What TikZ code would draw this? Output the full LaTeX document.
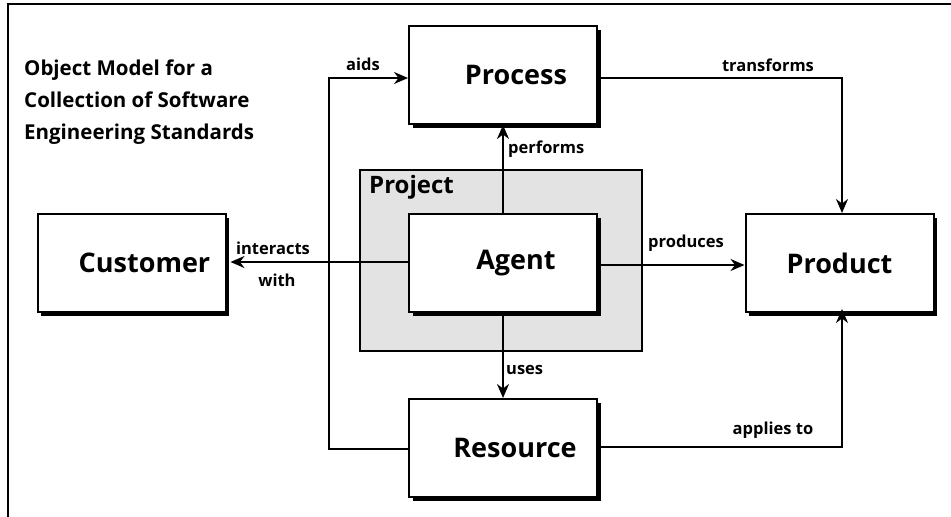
\documentclass[tikz,border=0pt]{standalone}
\usepackage{fontspec}
\setmainfont{Open Sans}
\usetikzlibrary{arrows.meta,shadows}
\begin{document}
\begin{tikzpicture}[x=1pt,y=-1pt,
  box/.style={draw,line width=2pt,fill=white,minimum width=188pt,minimum height=98pt,inner sep=0pt,
    drop shadow={opacity=1,fill=black,shadow xshift=3.5pt,shadow yshift=-3.5pt}},
  boxtext/.style={font=\bfseries\fontsize{27}{30}\selectfont},
  lbl/.style={font=\bfseries\fontsize{16.5}{18}\selectfont,inner sep=1pt},
  conn/.style={line width=2pt,-{Stealth[length=14pt,width=12pt]}},
  plain/.style={line width=2pt}]
\useasboundingbox (0,0) rectangle (951,517);
% outer frame
\draw[line width=1.5pt] (951,4) -- (8,4) -- (8,517);
% title
\node[anchor=west,font=\bfseries\fontsize{20.5}{32}\selectfont,align=left,inner sep=0pt] (title) at (24,102)
  {Object Model for a\\Collection of Software\\Engineering Standards};
% project area
\node[draw,line width=1.5pt,fill=black!11,minimum width=282pt,minimum height=181pt,inner sep=0pt] (proj) at (501,260.5) {};
\node[anchor=west,font=\bfseries\fontsize{24}{26}\selectfont,inner sep=0pt] (projlbl) at (369,187) {Project};
% boxes
\node[box] (process) at (503,75) {};
\node[box] (customer) at (131.5,263) {};
\node[box] (agent) at (503,263) {};
\node[box] (product) at (839.5,263) {};
\node[box] (resource) at (503,448) {};
\node[boxtext] at ([xshift=13pt]process) {Process};
\node[boxtext] at ([xshift=13pt]customer) {Customer};
\node[boxtext] at ([xshift=13pt]agent) {Agent};
\node[boxtext] at ([xshift=0pt]product) {Product};
\node[boxtext] at ([xshift=12pt]resource) {Resource};
% connectors
\coordinate (tcorner) at (842,78);
\coordinate (acorner) at (842,447);
\coordinate (aidsbot) at (329,449);
\coordinate (aidstop) at (329,78);
\draw[conn] (agent.north) -- (process.south);
\draw[conn] (agent.south) -- (resource.north);
\draw[conn] ([yshift=-2pt]agent.east) -- ([yshift=-2pt]product.west);
\draw[conn] ([yshift=1pt]agent.west) -- ([xshift=4pt,yshift=1pt]customer.east);
\draw[conn] (process.east |- tcorner) -- (tcorner) -- (product.north -| tcorner);
\draw[conn] (resource.east |- acorner) -- (acorner) -- ([yshift=4pt]product.south -| acorner);
\draw[conn] (resource.west |- aidsbot) -- (aidsbot) -- (aidstop) -- (process.west |- aidstop);
% connector labels
\node[lbl] (l1) at (363,64) {aids};
\node[lbl] (l2) at (768,65) {transforms};
\node[lbl,anchor=west] (l3) at (507,149) {performs};
\node[lbl] (l4) at (686,243) {produces};
\node[lbl] (l5) at (273,248) {interacts};
\node[lbl] (l6) at (277,280) {with};
\node[lbl,anchor=west] (l7) at (505,370) {uses};
\node[lbl] (l8) at (773,430) {applies to};
\end{tikzpicture}
\end{document}
